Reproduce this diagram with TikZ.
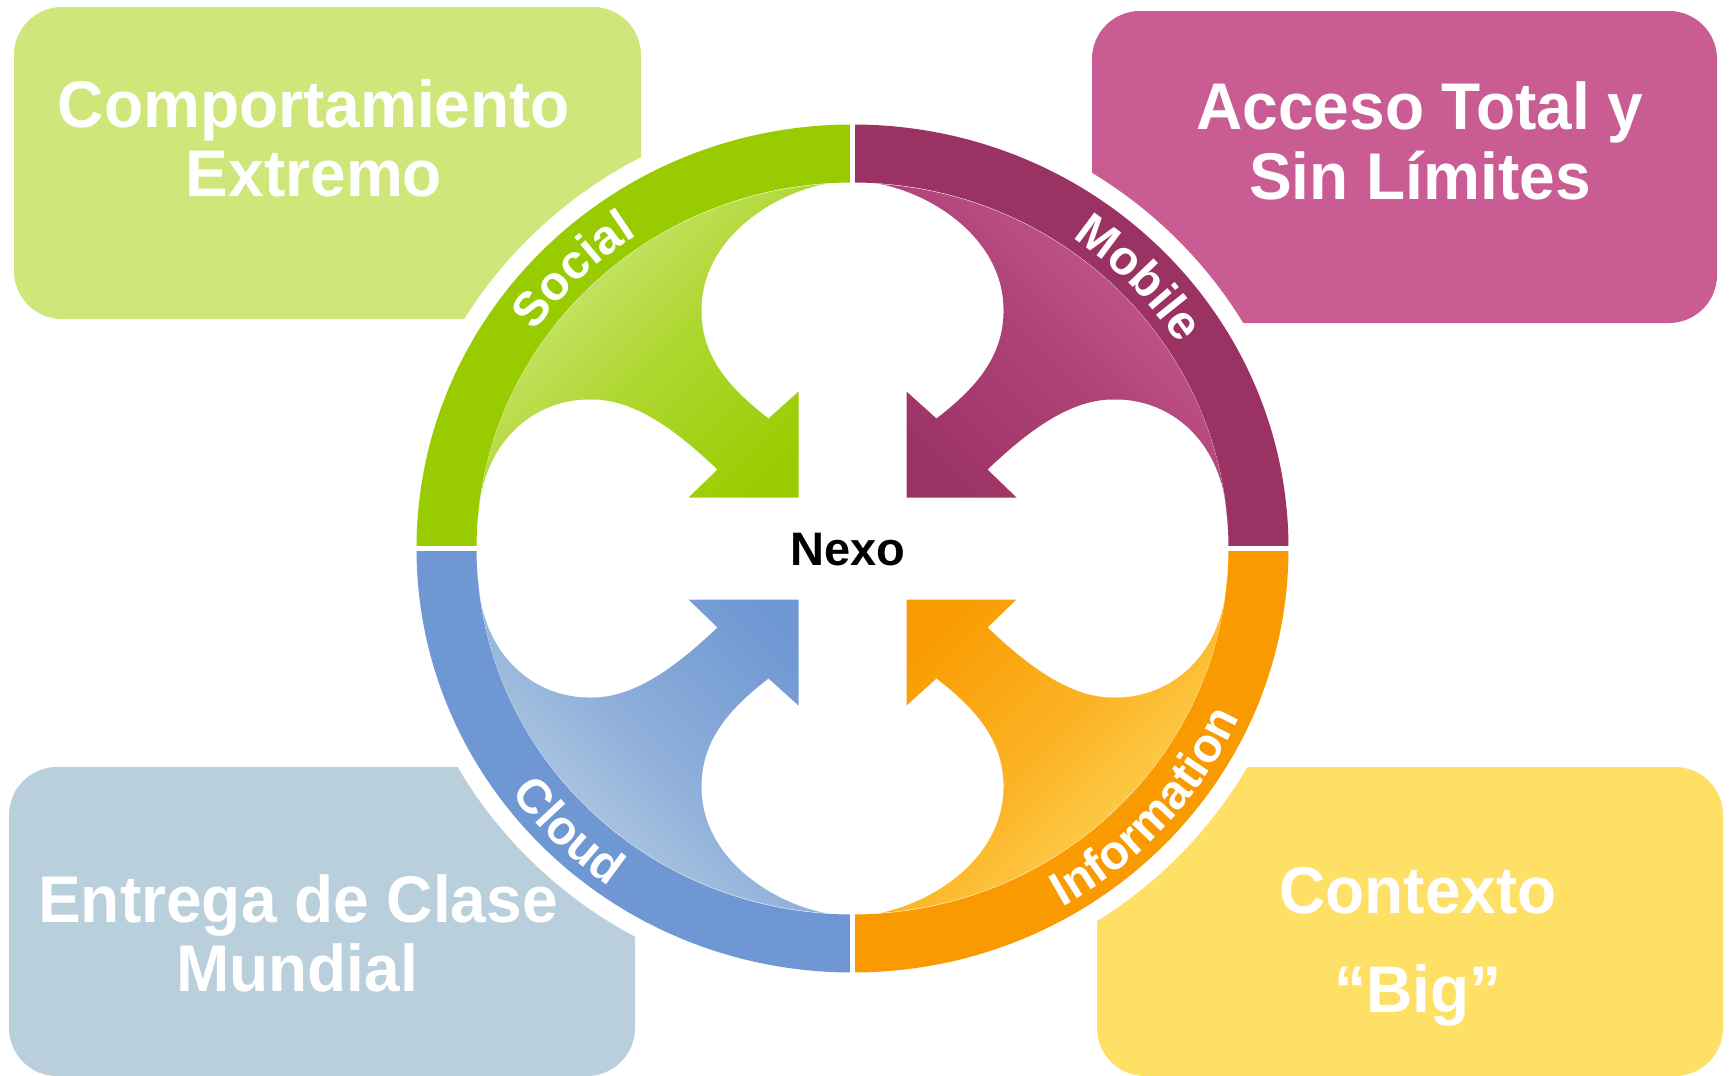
\documentclass[tikz,border=0pt]{standalone}
\usepackage{fontspec}
\setmainfont{Liberation Sans}
\newfontfamily\boxfont[FakeStretch=0.97]{Liberation Sans}
\usetikzlibrary{decorations.text}
\definecolor{gBox}{RGB}{207,230,123}
\definecolor{pBox}{RGB}{201,92,147}
\definecolor{bBox}{RGB}{185,207,220}
\definecolor{yBox}{RGB}{255,224,102}
\definecolor{gRing}{RGB}{153,204,0}
\definecolor{pRing}{RGB}{155,50,100}
\definecolor{bRing}{RGB}{111,151,211}
\definecolor{oRing}{RGB}{249,154,0}
\definecolor{gLight}{RGB}{210,233,130}
\definecolor{pLight}{RGB}{204,92,150}
\definecolor{bLight}{RGB}{188,210,228}
\definecolor{oLight}{RGB}{255,218,95}
\newcommand\ringfont{\bfseries\fontsize{48}{50}\selectfont}
\begin{document}
\begin{tikzpicture}[x=1pt,y=-1pt,
  box/.style={rounded corners=48pt, inner sep=0pt, outer sep=0pt, draw=none},
  boxtext/.style={font=\boxfont\bfseries\fontsize{66}{70}\selectfont, text=white, anchor=base, inner sep=0pt},
  arrowG/.style={top color=gLight, bottom color=gRing, middle color=gRing!60!gLight, shading angle=45},
  arrowP/.style={top color=pLight, bottom color=pRing, middle color=pRing!60!pLight, shading angle=-45},
  arrowB/.style={top color=bLight, bottom color=bRing, middle color=bRing!60!bLight, shading angle=135},
  arrowO/.style={top color=oLight, bottom color=oRing, middle color=oRing!60!oLight, shading angle=-135},
  sep/.style={white, line width=5.5pt}]
\useasboundingbox (0,0) rectangle (1730,1076);
\fill[white] (0,0) rectangle (1730,1076);
% boxes
\node[box, fill=gBox, minimum width=627pt, minimum height=312pt] (boxG) at (327.5,163) {};
\node[box, fill=pBox, minimum width=625pt, minimum height=312pt] (boxP) at (1404.5,167) {};
\node[box, fill=bBox, minimum width=626pt, minimum height=309pt] (boxB) at (322,921.5) {};
\node[box, fill=yBox, minimum width=626pt, minimum height=309pt] (boxY) at (1410,921.5) {};
% white halo
\fill[white] (852.5,548.5) ellipse [x radius=454, y radius=442];
\begin{scope}[shift={(852.5,548.5)}]
  % ring bands
  \fill[gRing] (180:436 and 424) arc[start angle=180, end angle=270, x radius=436, y radius=424]
     -- (270:376 and 366) arc[start angle=270, end angle=180, x radius=376, y radius=366] -- cycle;
  \fill[pRing] (270:436 and 424) arc[start angle=270, end angle=360, x radius=436, y radius=424]
     -- (0:376 and 366) arc[start angle=360, end angle=270, x radius=376, y radius=366] -- cycle;
  \fill[bRing] (90:436 and 424) arc[start angle=90, end angle=180, x radius=436, y radius=424]
     -- (180:376 and 366) arc[start angle=180, end angle=90, x radius=376, y radius=366] -- cycle;
  \fill[oRing] (0:436 and 424) arc[start angle=0, end angle=90, x radius=436, y radius=424]
     -- (90:376 and 366) arc[start angle=90, end angle=0, x radius=376, y radius=366] -- cycle;
  % arrows
  \path[arrowG] (-25,-365) .. controls (-80,-355) and (-150,-310) .. (-151,-240)
     .. controls (-152,-190) and (-120,-158) .. (-84,-130)
     -- (-54,-157) -- (-54,-51) -- (-164,-51) -- (-135,-79)
     .. controls (-170,-112) and (-215,-150) .. (-262,-149)
     .. controls (-315,-150) and (-372,-110) .. (-375,-25)
     arc[start angle=184, end angle=266, x radius=376, y radius=366] -- cycle;
  \begin{scope}[xscale=-1]
  \path[arrowP] (-25,-365) .. controls (-80,-355) and (-150,-310) .. (-151,-240)
     .. controls (-152,-190) and (-120,-158) .. (-84,-130)
     -- (-54,-157) -- (-54,-51) -- (-164,-51) -- (-135,-79)
     .. controls (-170,-112) and (-215,-150) .. (-262,-149)
     .. controls (-315,-150) and (-372,-110) .. (-375,-25)
     arc[start angle=184, end angle=266, x radius=376, y radius=366] -- cycle;
  \end{scope}
  \begin{scope}[yscale=-1]
  \path[arrowB] (-25,-365) .. controls (-80,-355) and (-150,-310) .. (-151,-240)
     .. controls (-152,-190) and (-120,-158) .. (-84,-130)
     -- (-54,-157) -- (-54,-51) -- (-164,-51) -- (-135,-79)
     .. controls (-170,-112) and (-215,-150) .. (-262,-149)
     .. controls (-315,-150) and (-372,-110) .. (-375,-25)
     arc[start angle=184, end angle=266, x radius=376, y radius=366] -- cycle;
  \end{scope}
  \begin{scope}[xscale=-1, yscale=-1]
  \path[arrowO] (-25,-365) .. controls (-80,-355) and (-150,-310) .. (-151,-240)
     .. controls (-152,-190) and (-120,-158) .. (-84,-130)
     -- (-54,-157) -- (-54,-51) -- (-164,-51) -- (-135,-79)
     .. controls (-170,-112) and (-215,-150) .. (-262,-149)
     .. controls (-315,-150) and (-372,-110) .. (-375,-25)
     arc[start angle=184, end angle=266, x radius=376, y radius=366] -- cycle;
  \end{scope}
  % separators
  \draw[sep] (0,-440) -- (0,-355);
  \draw[sep] (0,440) -- (0,355);
  \draw[sep] (-450,0) -- (-365,0);
  \draw[sep] (450,0) -- (365,0);
  % ring labels
  \path[decorate, decoration={text along path, text align=center, text color=white, text={|\ringfont|Social}}]
     (195:388 and 377) arc[start angle=195, end angle=256, x radius=388, y radius=377];
  \path[decorate, decoration={text along path, text align=center, text color=white, text={|\ringfont|Mobile}}]
     (286:388 and 377) arc[start angle=286, end angle=346, x radius=388, y radius=377];
  \path[decorate, decoration={text along path, text align=center, text color=white, text={|\ringfont|Cloud}}]
     (165:424 and 413) arc[start angle=165, end angle=104, x radius=424, y radius=413];
  \path[decorate, decoration={text along path, text align=center, text color=white, text={|\ringfont|Information}}]
     (82:424 and 413) arc[start angle=82, end angle=2, x radius=424, y radius=413];
\end{scope}
\node[font=\bfseries\fontsize{47}{50}\selectfont, anchor=base, inner sep=0pt] (nexo) at (848,565) {Nexo};
% box texts
\node[boxtext] (tG1) at (314,127) {Comportamiento};
\node[boxtext] (tG2) at (314,196) {Extremo};
\node[boxtext] (tP1) at (1420,129) {Acceso Total y};
\node[boxtext] (tP2) at (1420,199) {Sin Límites};
\node[boxtext] (tB1) at (298,922) {Entrega de Clase};
\node[boxtext] (tB2) at (297,991) {Mundial};
\node[boxtext] (tY1) at (1418,913) {Contexto};
\node[boxtext] (tY2) at (1418,1012) {“Big”};
\end{tikzpicture}
\end{document}
